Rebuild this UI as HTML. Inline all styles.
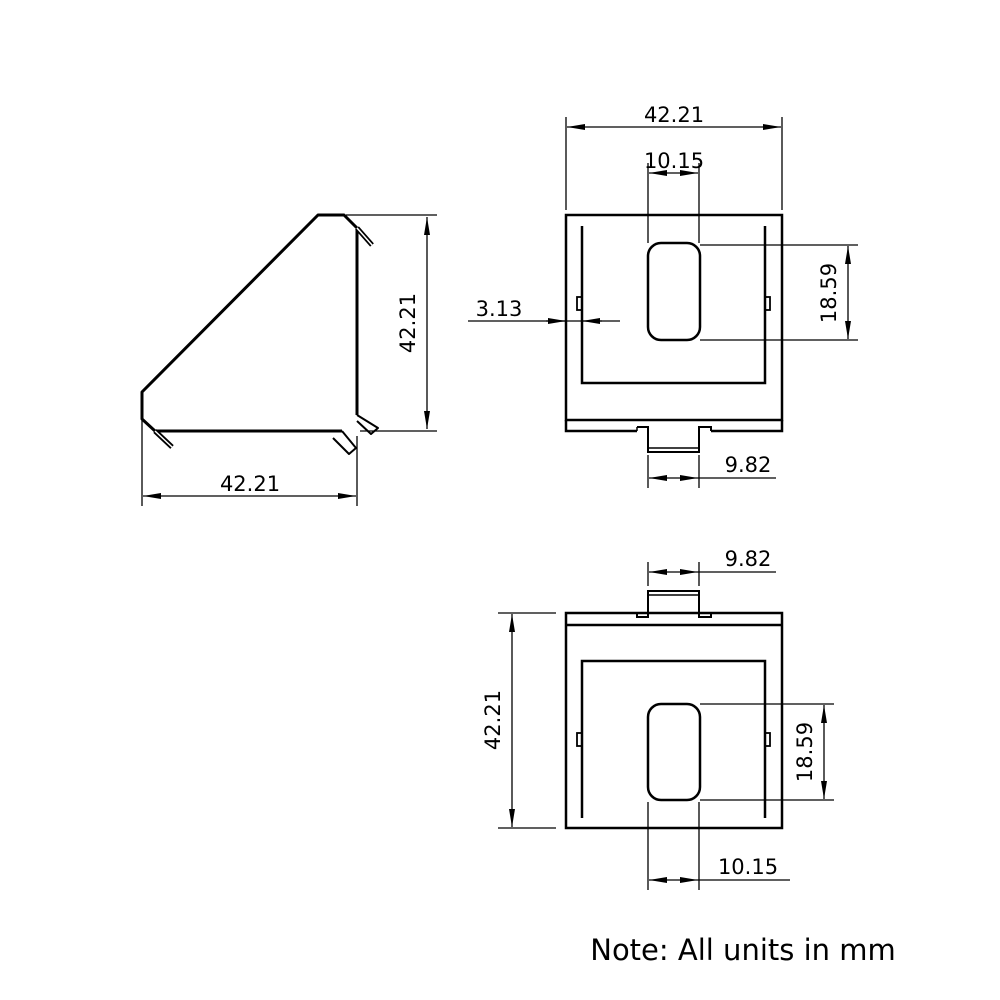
<!DOCTYPE html>
<html><head><meta charset="utf-8"><style>
html,body{margin:0;padding:0;background:#fff;}
svg{display:block;}
text{font-family:"DejaVu Sans","Liberation Sans",sans-serif;font-size:21px;fill:#000;}
</style></head><body>
<svg width="1000" height="1000" viewBox="0 0 1000 1000" xmlns="http://www.w3.org/2000/svg">
<defs>
<marker id="a" viewBox="0 0 18 6" refX="18" refY="3" markerWidth="18" markerHeight="6" orient="auto-start-reverse" markerUnits="userSpaceOnUse"><path d="M0,0 L18,3 L0,6z" fill="#000"/></marker>
</defs>
<g fill="none" stroke="#000">
<!-- side view -->
<g stroke-width="3" stroke-linejoin="round">
<path d="M357,228 L344,215 L318,215 L142,392 L142,419 L155,431 L342,431"/>
<path d="M357,229 L357,415"/>
<path d="M357,228 L372,245" stroke-width="5"/><path d="M357,228 L372,245" stroke="#fff" stroke-width="1.5"/>
<path d="M155,431 L172,447" stroke-width="5"/><path d="M155,431 L172,447" stroke="#fff" stroke-width="1.5"/>
<path d="M357,415 L378,428 L371,434 L357,421" stroke-width="2"/>
<path d="M342,431 L356,448 L349,454 L333,438" stroke-width="2"/>
</g>
<g stroke-width="1.3">
<path d="M346,215 H437"/><path d="M360,431 H437"/>
<path d="M427,217 V429" marker-start="url(#a)" marker-end="url(#a)"/>
<path d="M142,420 V506"/><path d="M357,436 V506"/>
<path d="M143,496 H356" marker-start="url(#a)" marker-end="url(#a)"/>
</g>
<!-- top view -->
<g stroke-width="2.5">
<rect x="566" y="215" width="216" height="205"/>
<path d="M566,420 V431 H637 M711,431 H782 V420"/>
<path d="M582,226 V383 H765 V226"/>
<rect x="577" y="297" width="5" height="13" stroke-width="1.8"/>
<rect x="765" y="297" width="5" height="13" stroke-width="1.8"/>
<rect x="648" y="243" width="52" height="97" rx="13"/>
<path d="M637,427 H648 V452 H699 V427 H711 V431" stroke-width="2"/>
<path d="M637,427 V431 M649,448 H698" stroke-width="1.5"/>
</g>
<g stroke-width="1.3">
<path d="M566,117 V210 M782,117 V210"/>
<path d="M567,127 H781" marker-start="url(#a)" marker-end="url(#a)"/>
<path d="M648,163 V243 M699,163 V243"/>
<path d="M649,173 H698" marker-start="url(#a)" marker-end="url(#a)"/>
<path d="M700,245 H858 M700,340 H858"/>
<path d="M848,246 V339" marker-start="url(#a)" marker-end="url(#a)"/>
<path d="M468,321 H620"/>
<path d="M546,321 H566" marker-end="url(#a)"/>
<path d="M602,321 H582" marker-end="url(#a)"/>
<path d="M648,455 V488 M699,455 V488"/>
<path d="M649,478 H698" marker-start="url(#a)" marker-end="url(#a)"/>
<path d="M698,478 H776"/>
</g>
<!-- bottom view -->
<g stroke-width="2.5">
<rect x="566" y="613" width="216" height="215"/>
<path d="M566,625 H782"/>
<path d="M582,818 V661 H765 V818"/>
<rect x="577" y="733" width="5" height="13" stroke-width="1.8"/>
<rect x="765" y="733" width="5" height="13" stroke-width="1.8"/>
<rect x="648" y="704" width="52" height="96" rx="13"/>
<path d="M637,613 V617 H648 V591 H699 V617 H711 V613" stroke-width="2"/>
<path d="M649,595 H698" stroke-width="1.5"/>
</g>
<g stroke-width="1.3">
<path d="M498,613 H556 M498,828 H556"/>
<path d="M512,614 V827" marker-start="url(#a)" marker-end="url(#a)"/>
<path d="M648,562 V586 M699,562 V586"/>
<path d="M649,572 H698" marker-start="url(#a)" marker-end="url(#a)"/>
<path d="M698,572 H776"/>
<path d="M700,704 H834 M700,800 H834"/>
<path d="M824,705 V799" marker-start="url(#a)" marker-end="url(#a)"/>
<path d="M648,802 V890 M699,802 V890"/>
<path d="M649,880 H698" marker-start="url(#a)" marker-end="url(#a)"/>
<path d="M698,880 H790"/>
</g>
</g>
<text x="674" y="122" text-anchor="middle">42.21</text>
<text x="674" y="168" text-anchor="middle">10.15</text>
<text x="846" y="293" text-anchor="middle" transform="rotate(-90 846 293)" dy="-10">18.59</text>
<text x="499" y="316" text-anchor="middle">3.13</text>
<text x="748" y="472" text-anchor="middle">9.82</text>
<text x="425" y="323" text-anchor="middle" transform="rotate(-90 425 323)" dy="-10">42.21</text>
<text x="250" y="491" text-anchor="middle">42.21</text>
<text x="748" y="566" text-anchor="middle">9.82</text>
<text x="510" y="720" text-anchor="middle" transform="rotate(-90 510 720)" dy="-10">42.21</text>
<text x="822" y="752" text-anchor="middle" transform="rotate(-90 822 752)" dy="-10">18.59</text>
<text x="748" y="874" text-anchor="middle">10.15</text>
<text x="743" y="960" text-anchor="middle" style="font-size:29px">Note: All units in mm</text>
</svg>
</body></html>
